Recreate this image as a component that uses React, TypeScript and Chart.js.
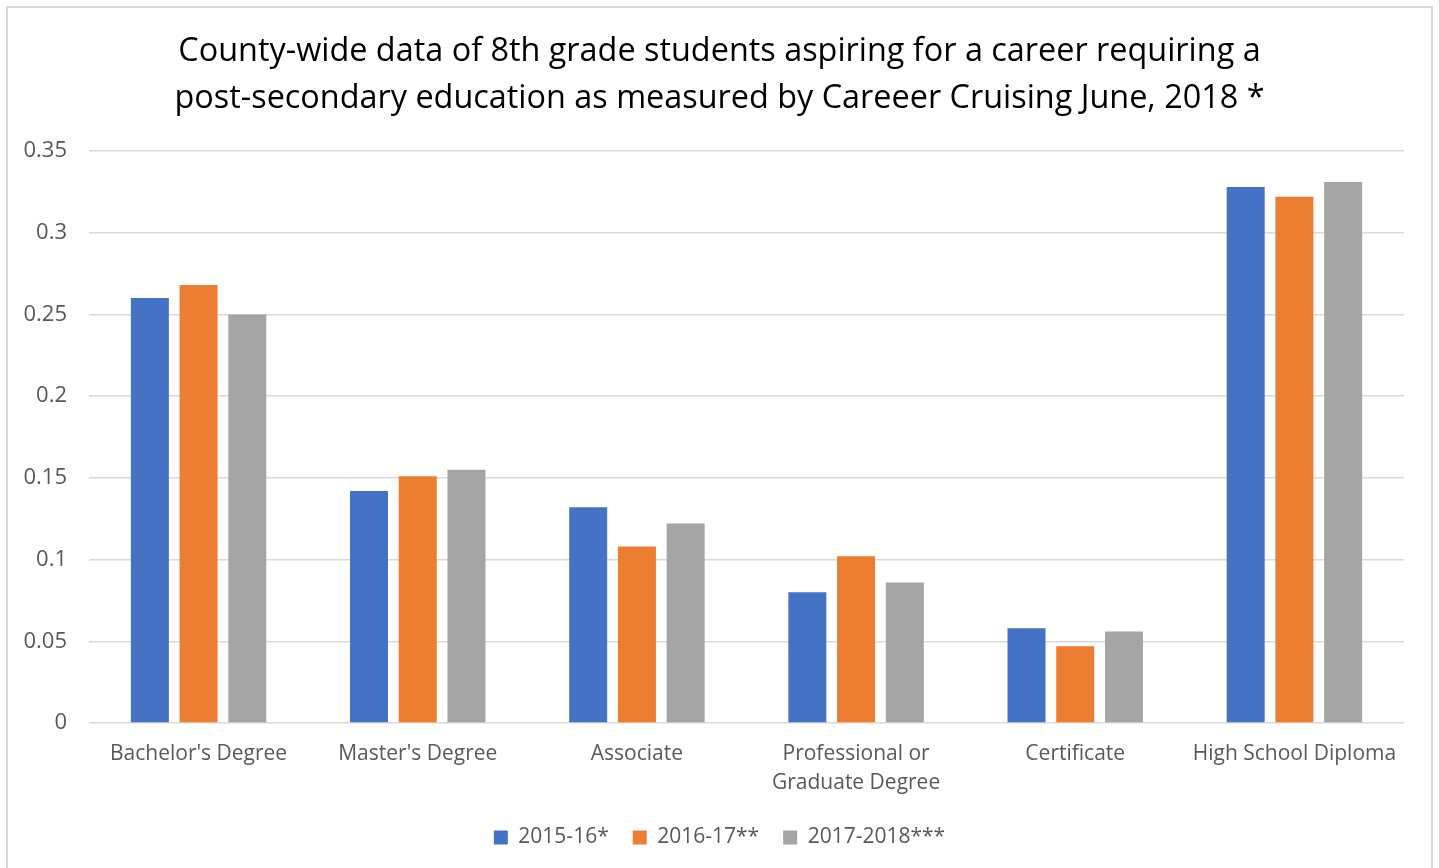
import React, { useEffect, useRef } from "react";
import { Chart, registerables } from "chart.js";

Chart.register(...registerables);

const titleLines = [
  "County-wide data of 8th grade students aspiring for a career requiring a",
  "post-secondary education as measured by Careeer Cruising June, 2018 *",
];
const categories: (string | string[])[] = [
  "Bachelor's Degree",
  "Master's Degree",
  "Associate",
  ["Professional or", "Graduate Degree"],
  "Certificate",
  "High School Diploma",
];
const series2015 = [0.26, 0.142, 0.132, 0.08, 0.058, 0.328];
const series2016 = [0.268, 0.151, 0.108, 0.102, 0.047, 0.322];
const series2017 = [0.25, 0.155, 0.122, 0.086, 0.056, 0.331];
const seriesLabels = ["2015-16*", "2016-17**", "2017-2018***"];
const seriesColors = ["#4472C4", "#ED7D31", "#A5A5A5"];

const FONT = "'Open Sans', 'Noto Sans', sans-serif";

export default function App() {
  const ref = useRef<HTMLCanvasElement>(null);
  useEffect(() => {
    document.body.style.margin = "0";
    const ctx = ref.current!;
    const chart = new Chart(ctx, {
      type: "bar",
      data: {
        labels: categories,
        datasets: [series2015, series2016, series2017].map((d, i) => ({
          label: seriesLabels[i],
          data: d,
          backgroundColor: seriesColors[i],
          borderWidth: 0,
          categoryPercentage: 0.667,
          barPercentage: 0.78,
        })),
      },
      options: {
        responsive: false,
        animation: false,
        devicePixelRatio: 1,
        layout: { padding: { left: 0, right: 0, top: 10, bottom: 10 } },
        plugins: {
          title: {
            display: true,
            text: titleLines,
            color: "#000000",
            font: { family: FONT, size: 32.4, weight: "normal", lineHeight: 1.45 },
            padding: { top: 18, bottom: 29 },
          },
          legend: {
            position: "bottom",
            labels: {
              boxWidth: 14,
              boxHeight: 14,
              color: "#595959",
              font: { family: FONT, size: 21 },
              padding: 24,
            },
          },
          tooltip: { enabled: false },
        },
        scales: {
          x: {
            grid: { display: false, drawTicks: false },
            border: { display: false },
            ticks: {
              color: "#595959",
              font: { family: FONT, size: 21, lineHeight: 1.38 },
              padding: 17,
              maxRotation: 0,
              autoSkip: false,
            },
            afterFit: (s: any) => {
              s.height = 80;
            },
          },
          y: {
            min: 0,
            max: 0.35,
            ticks: {
              stepSize: 0.05,
              color: "#595959",
              font: { family: FONT, size: 22 },
              padding: 22,
              callback: (v: any) => String(parseFloat(Number(v).toFixed(2))),
            },
            grid: { color: "#D9D9D9", lineWidth: 1.5, drawTicks: false },
            border: { display: false },
            afterFit: (s: any) => {
              s.width = 89;
            },
          },
          yRight: {
            position: "right",
            display: true,
            min: 0,
            max: 0.35,
            grid: { display: false, drawTicks: false },
            border: { display: false },
            ticks: { display: false },
            afterFit: (s: any) => {
              s.width = 35;
            },
          },
        },
      },
    });
    return () => chart.destroy();
  }, []);
  return (
    <div style={{ position: "absolute", left: 0, top: 0, width: 1439, height: 868, overflow: "hidden", background: "#fff" }}>
      <div
        style={{
          position: "absolute",
          left: 6,
          top: 6,
          width: 1427,
          height: 900,
          border: "2px solid #D9D9D9",
          boxSizing: "border-box",
        }}
      />
      <canvas ref={ref} width={1439} height={868} style={{ position: "absolute", left: 0, top: 0 }} />
    </div>
  );
}
